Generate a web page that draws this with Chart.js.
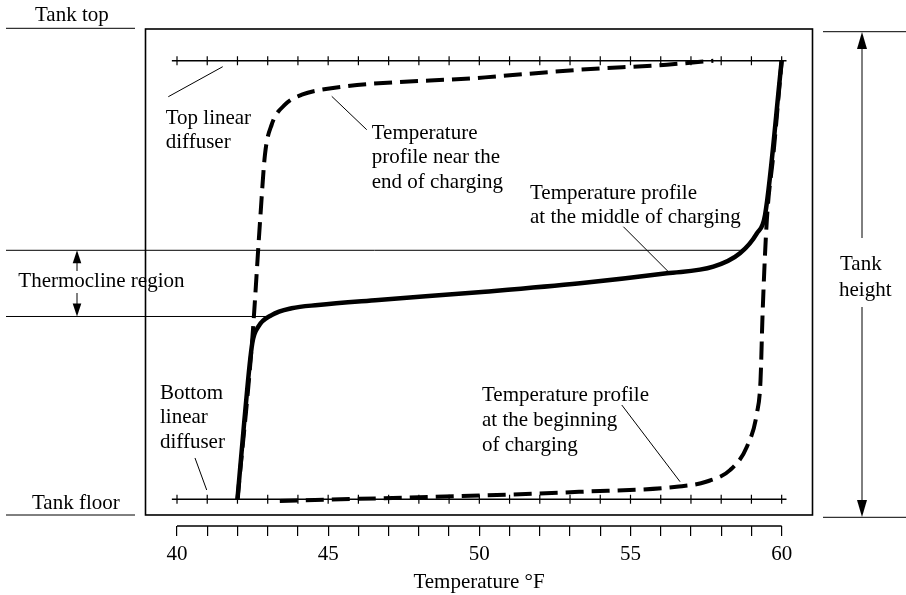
<!DOCTYPE html>
<html><head><meta charset="utf-8">
<script src="https://cdn.jsdelivr.net/npm/chart.js@4/dist/chart.umd.min.js"></script>
<style>html,body{margin:0;padding:0;background:#fff}canvas{display:block}</style>
</head><body>
<canvas id="c" width="906" height="595"></canvas>
<script>
// ---- data (temperature in °F, height as % of tank height between diffusers) ----
const axisTicks = [40,41,42,43,44,45,46,47,48,49,50,51,52,53,54,55,56,57,58,59,60];
const axisLabels = ['40','','','','','45','','','','','50','','','','','55','','','','','60'];

const diffuserTemp = [39.83,40,41,42,43,44,45,46,47,48,49,50,51,52,53,54,55,56,57,58,59,60,60.16];
const topDiffuserHeight = 100;
const bottomDiffuserHeight = 0;

const endTemp   = [42.0, 42.48, 42.75, 42.91, 43.13, 43.57, 44.13, 44.79, 50.19, 53.33, 56.20, 57.74];
const endHeight = [0,    35.6,  63.7,  78.6,  85.4,  89.97, 92.25, 93.4,  96.2,  97.95, 99.1,  100];

const midTemp   = [42.0, 42.23, 42.49, 42.69, 43.13, 43.79, 44.67, 46.66, 50.19, 53.33, 56.20, 57.74, 58.62, 59.18, 59.45, 60.0];
const midHeight = [0,    18.1,  35.6,  39.35, 42.0,  43.55, 44.3,  45.44, 47.33, 49.25, 51.53, 53.03, 56.09, 60.65, 64.8,  100];

const beginTemp   = [43.4, 46.0, 50.2, 53.3, 56.6, 57.5, 58.3, 58.85, 59.18, 59.3, 59.37, 59.51, 59.73, 60.0];
const beginHeight = [-0.4, 0.1,  0.9,  1.7,  2.9,  4.0,  6.7,  12.0,  19.6,  27.0, 42.5,  63.7,  78.9,  100];

const thermoclineTop = 56.77, thermoclineBottom = 41.68;

// ---- scale ranges ----
const xMin = 38.958, xMax = 61.02;
const yMin = -6.09, yMax = 107.23, boxFloor = -3.58;

const pts = (xs, ys) => xs.map((x,i)=>({x, y: ys[i]}));
const FONT = '"Liberation Serif", "Times New Roman", serif';

const deco = {
  id: 'deco',
  beforeDatasetsDraw(chart){
    const {ctx, chartArea: ca, scales:{x, y}} = chart;
    ctx.save();
    ctx.strokeStyle = '#000';
    // plot box
    ctx.lineWidth = 1.6;
    ctx.strokeRect(ca.left, ca.top, ca.right - ca.left, y.getPixelForValue(boxFloor) - ca.top);
    // axis line
    ctx.lineWidth = 1.3;
    ctx.beginPath();
    ctx.moveTo(x.getPixelForValue(axisTicks[0]), ca.bottom);
    ctx.lineTo(x.getPixelForValue(axisTicks[axisTicks.length-1]), ca.bottom);
    ctx.stroke();
    // thermocline boundaries
    ctx.lineWidth = 1;
    const tT = y.getPixelForValue(thermoclineTop), tB = y.getPixelForValue(thermoclineBottom);
    ctx.beginPath();
    ctx.moveTo(6, tT); ctx.lineTo(x.getPixelForValue(58.72), tT);
    ctx.moveTo(6, tB); ctx.lineTo(x.getPixelForValue(43.14), tB);
    // tank top / floor lines
    ctx.moveTo(6, 28.3); ctx.lineTo(135, 28.3);
    ctx.moveTo(6, 515); ctx.lineTo(135, 515);
    ctx.moveTo(823, 31.7); ctx.lineTo(906, 31.7);
    ctx.moveTo(823, 517.3); ctx.lineTo(906, 517.3);
    // tank height arrow shaft
    ctx.moveTo(862, 45); ctx.lineTo(862, 238);
    ctx.moveTo(862, 307); ctx.lineTo(862, 505);
    // thermocline arrow shafts
    ctx.moveTo(77, 260); ctx.lineTo(77, 271);
    ctx.moveTo(77, 293); ctx.lineTo(77, 305);
    // leader lines (in data coordinates)
    const leaders = [[39.712,91.79,41.512,98.63],[45.118,91.88,46.275,84.27],[54.764,62.15,56.252,51.89],[40.595,9.42,40.982,2.12],[54.711,21.5,56.639,4.01]];
    leaders.forEach(([a,b,c,d])=>{ctx.moveTo(x.getPixelForValue(a), y.getPixelForValue(b)); ctx.lineTo(x.getPixelForValue(c), y.getPixelForValue(d));});
    ctx.stroke();
    // arrow heads
    ctx.fillStyle = '#000';
    const head = (cx, tip, len, hw) => { ctx.beginPath(); ctx.moveTo(cx, tip); ctx.lineTo(cx-hw, tip+len); ctx.lineTo(cx+hw, tip+len); ctx.closePath(); ctx.fill(); };
    head(862, 32, 17, 5);
    head(862, 517, -17, 5);
    head(77, tT, 13, 4.3);
    head(77, tB, -13, 4.3);
    ctx.restore();
  },
  afterDatasetsDraw(chart){
    const {ctx} = chart;
    ctx.save();
    ctx.fillStyle = '#000';
    ctx.font = '21px ' + FONT;
    ctx.textBaseline = 'alphabetic';
    ctx.textAlign = 'left';
    const T = (s, px, py) => ctx.fillText(s, px, py);
    T('Tank top', 35, 20.6);
    T('Tank floor', 32, 509);
    T('Thermocline region', 18.3, 287.2);
    T('Tank', 840, 270);
    T('height', 839, 296);
    T('Top linear', 165.7, 123.6);
    T('diffuser', 165.7, 148.3);
    T('Temperature', 371.7, 138.6);
    T('profile near the', 371.7, 163);
    T('end of charging', 371.7, 187.5);
    T('Temperature profile', 530, 198.6);
    T('at the middle of charging', 530, 223);
    T('Bottom', 160, 399);
    T('linear', 160, 423.3);
    T('diffuser', 160, 447.6);
    T('Temperature profile', 482, 400.6);
    T('at the beginning', 482, 425.6);
    T('of charging', 482, 450.6);
    ctx.restore();
  }
};

const tickRadius = ctx => Number.isInteger(ctx.raw && ctx.raw.x) ? 4.5 : 0;

new Chart(document.getElementById('c'), {
  type: 'line',
  data: {
    datasets: [
      { label: 'Top linear diffuser', data: diffuserTemp.map(t=>({x:t, y:topDiffuserHeight})),
        borderColor:'#000', borderWidth:1.5, pointStyle:'line', rotation:90, pointRadius: tickRadius,
        pointBorderColor:'#000', pointBorderWidth:1.2, tension:0, order:5 },
      { label: 'Bottom linear diffuser', data: diffuserTemp.map(t=>({x:t, y:bottomDiffuserHeight})),
        borderColor:'#000', borderWidth:1.5, pointStyle:'line', rotation:90, pointRadius: tickRadius,
        pointBorderColor:'#000', pointBorderWidth:1.2, tension:0, order:5 },
      { label: 'Temperature profile near the end of charging', data: pts(endTemp, endHeight),
        borderColor:'#000', borderWidth:4, borderDash:[18,8], pointRadius:0, cubicInterpolationMode:'monotone', order:2 },
      { label: 'Temperature profile at the middle of charging', data: pts(midTemp, midHeight),
        borderColor:'#000', borderWidth:4.5, pointRadius:0, cubicInterpolationMode:'monotone', order:1 },
      { label: 'Temperature profile at the beginning of charging', data: pts(beginTemp, beginHeight),
        borderColor:'#000', borderWidth:4, borderDash:[18,8], pointRadius:0, cubicInterpolationMode:'monotone', order:3 }
    ]
  },
  options: {
    responsive:false, animation:false, devicePixelRatio:1,
    layout:{ padding:{ left:145.5, right:93.5, top:29, bottom:0 } },
    plugins:{ legend:{display:false}, tooltip:{enabled:false} },
    scales:{
      x:{ type:'linear', position:'bottom', min:xMin, max:xMax,
        afterFit: s => { s.height = 69; },
        afterBuildTicks: s => { s.ticks = axisTicks.map(v=>({value:v})); },
        ticks:{ autoSkip:false, maxRotation:0, color:'#000', padding:6,
          font:{ family:FONT, size:21 },
          callback:(v, i) => axisLabels[axisTicks.indexOf(v)] ?? '' },
        grid:{ drawOnChartArea:false, drawTicks:true, tickLength:10, color:'#000', lineWidth:1.2 },
        border:{ display:false },
        title:{ display:true, text:'Temperature °F', color:'#000', font:{ family:FONT, size:21 }, padding:{top:0, bottom:0} }
      },
      y:{ type:'linear', display:false, min:yMin, max:yMax }
    }
  },
  plugins:[deco]
});
</script>
</body></html>
